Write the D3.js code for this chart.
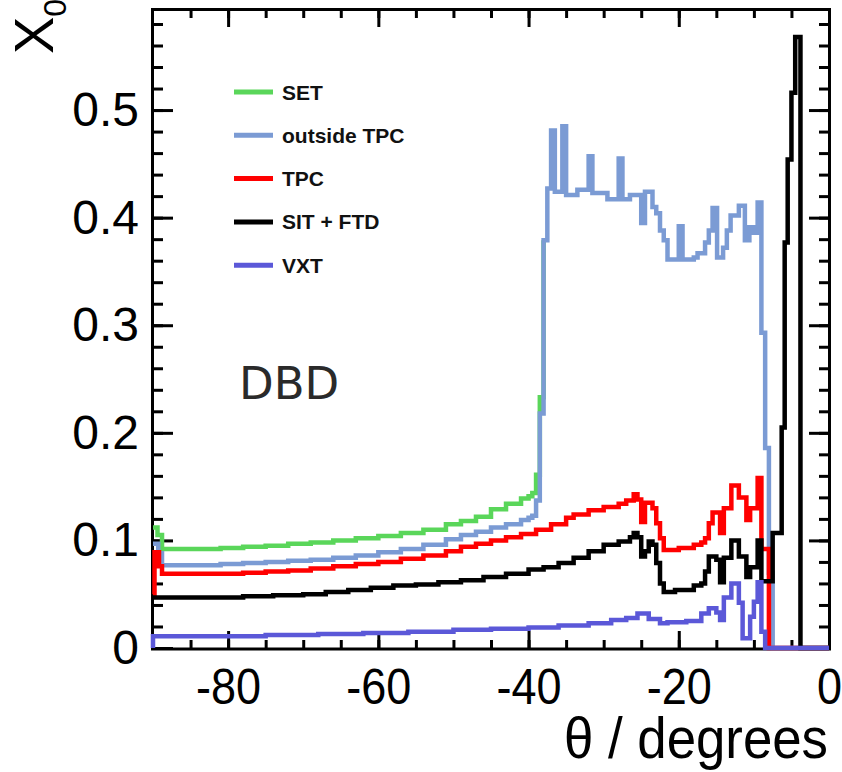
<!DOCTYPE html>
<html>
<head>
<meta charset="utf-8">
<script src="https://cdn.jsdelivr.net/npm/d3@7"></script>
<style>
  html, body { margin: 0; padding: 0; background: #ffffff; }
  svg { display: block; }
</style>
</head>
<body>
<svg id="chart" width="842" height="772"></svg>
<script>
// ---------------- data (theta in degrees, X0 values) ----------------
// step-function breakpoints [theta, value]; each value holds until the next theta
const setData = [[-90,0.112],[-89.4,0.105],[-88.8,0.092],[-81,0.093],[-78,0.094],[-75,0.095],[-72,0.097],[-69,0.098],[-66,0.100],[-63,0.102],[-60,0.104],[-57,0.107],[-54,0.110],[-51,0.115],[-49,0.118],[-47,0.122],[-45,0.129],[-43,0.134],[-41,0.139],[-40,0.141],[-39.5,0.144],[-39,0.161],[-38.5,0.233],[-38,0.379]];

const outsideTpcData = [[-90,0.097],[-89.3,0.088],[-88.8,0.077],[-81,0.078],[-78,0.079],[-75,0.080],[-72,0.081],[-69,0.082],[-66,0.084],[-63,0.086],[-60,0.089],[-57,0.092],[-54,0.096],[-51,0.101],[-49,0.105],[-47,0.108],[-45,0.112],[-43,0.115],[-41,0.119],[-40,0.121],[-39.5,0.123],[-39,0.137],[-38.5,0.218],[-38,0.379],[-37.5,0.427],[-37,0.481],[-36.5,0.424],[-35.5,0.485],[-35,0.421],[-33.5,0.426],[-32,0.457],[-31.5,0.423],[-29.5,0.417],[-28,0.455],[-27.5,0.417],[-26.5,0.421],[-25,0.395],[-24.5,0.424],[-23.5,0.410],[-23,0.404],[-22.5,0.388],[-22,0.379],[-21.5,0.361],[-20,0.392],[-19.5,0.361],[-18,0.363],[-17.5,0.367],[-16.5,0.377],[-16,0.388],[-15.5,0.409],[-14.9,0.363],[-14.1,0.372],[-13.6,0.388],[-13.1,0.402],[-12,0.411],[-11.2,0.379],[-10.6,0.391],[-10.1,0.386],[-9.5,0.414],[-9,0.293],[-8.5,0.186],[-8,0.070],[-7.5,0],[0,0]];

const tpcData = [[-90,0.050],[-89.8,0.089],[-89.2,0.076],[-88.8,0.069],[-81,0.069],[-78,0.070],[-75,0.071],[-72,0.072],[-69,0.074],[-66,0.076],[-63,0.078],[-60,0.080],[-57,0.083],[-54,0.086],[-51,0.090],[-49,0.094],[-47,0.097],[-45,0.100],[-43,0.103],[-41,0.106],[-39,0.110],[-37,0.115],[-35,0.121],[-34,0.124],[-32,0.128],[-30,0.131],[-28,0.134],[-27,0.137],[-26,0.143],[-25.5,0.138],[-25,0.117],[-24.5,0.135],[-23.5,0.130],[-23,0.116],[-22.5,0.102],[-22,0.091],[-20,0.093],[-18,0.096],[-17,0.098],[-16.5,0.102],[-16,0.116],[-15.5,0.126],[-14.5,0.107],[-14,0.130],[-13,0.151],[-12,0.140],[-11,0.119],[-10.5,0.130],[-9.5,0.158],[-9,0.092],[-8,0],[0,0]];

const sitFtdData = [[-90,0.047],[-78,0.048],[-74,0.049],[-70,0.050],[-67,0.052],[-64,0.054],[-61,0.056],[-58,0.058],[-55,0.059],[-52,0.061],[-49,0.063],[-46,0.066],[-43,0.069],[-40,0.073],[-38,0.075],[-36,0.079],[-34,0.084],[-32,0.090],[-30,0.096],[-28,0.099],[-26.5,0.103],[-26,0.107],[-25.5,0.103],[-25,0.085],[-24.5,0.090],[-24,0.099],[-23.5,0.096],[-23,0.079],[-22.5,0.060],[-22,0.052],[-20.5,0.054],[-18,0.058],[-17,0.060],[-16.5,0.071],[-16,0.085],[-15,0.082],[-14.5,0.061],[-14,0.084],[-13,0.100],[-12,0.085],[-11,0.066],[-10.5,0.075],[-9.5,0.100],[-9,0.062],[-7.5,0.107],[-6.3,0.205],[-5.9,0.377],[-5.5,0.454],[-5,0.516],[-4.5,0.568],[-3.8,0],[0,0]];

const vxtData = [[-90,0],[-90,0.011],[-75,0.012],[-68,0.013],[-62,0.014],[-56,0.015],[-50,0.017],[-45,0.018],[-40,0.019],[-36,0.021],[-32,0.023],[-29,0.026],[-27,0.028],[-25.5,0.032],[-24,0.027],[-22.5,0.023],[-21.5,0.024],[-19,0.025],[-17,0.032],[-16,0.037],[-15,0.033],[-14.5,0.026],[-14,0.047],[-13,0.060],[-12,0.042],[-11.5,0.009],[-10.5,0.029],[-10,0.043],[-9.5,0.061],[-9,0.015],[-8.5,0],[0,0]];

const seriesNames = ["SET", "outside TPC", "TPC", "SIT + FTD", "VXT"];
const seriesColors = ["#5ad65a", "#7b9bd4", "#ff0000", "#000000", "#5b58d8"];
const seriesData = [setData, outsideTpcData, tpcData, sitFtdData, vxtData];

const xMajorTicks = [-80, -60, -40, -20, 0];
const xMinorTicks = d3.range(-85, 0, 5);
const yMajorTicks = [0, 0.1, 0.2, 0.3, 0.4, 0.5];
const yMinorTicks = d3.range(0.02, 0.59, 0.02);

const xTitle = "θ / degrees";
const yTitleMain = "X";
const yTitleSub = "0";
const annotation = "DBD";

// ---------------- layout ----------------
const svg = d3.select("#chart");
const L = 153, R = 829, T = 10, B = 648;
const x = d3.scaleLinear().domain([-90, 0]).range([L, R]);
const y = d3.scaleLinear().domain([0, 0.593]).range([B, T]);

// frame
svg.append("rect")
  .attr("x", L - 0.5).attr("y", T - 0.5)
  .attr("width", R - L + 1).attr("height", B - T + 1.5)
  .attr("fill", "none").attr("stroke", "#000").attr("stroke-width", 3);

const fmtY = d => d === 0 ? "0" : d3.format(".1f")(d);
const fmtX = d => String(d);

// bottom axis (major ticks + labels)
const gx = svg.append("g").attr("transform", `translate(0,${B})`)
  .call(d3.axisBottom(x).tickValues(xMajorTicks).tickSize(-17).tickPadding(21).tickFormat(fmtX));
gx.select(".domain").remove();
gx.selectAll("line").attr("stroke-width", 3);
gx.selectAll("text").attr("font-family", "'Liberation Sans', Arial, sans-serif")
  .attr("font-size", 50).attr("fill", "#000")
  .attr("transform", "scale(0.9,1)")
  .attr("x", 0);
// bottom minor
const gxm = svg.append("g").attr("transform", `translate(0,${B})`)
  .call(d3.axisBottom(x).tickValues(xMinorTicks).tickSize(-8).tickFormat(""));
gxm.select(".domain").remove();
gxm.selectAll("line").attr("stroke-width", 3);
// top ticks
const gt = svg.append("g").attr("transform", `translate(0,${T})`)
  .call(d3.axisTop(x).tickValues(xMajorTicks).tickSize(-17).tickFormat(""));
gt.select(".domain").remove();
gt.selectAll("line").attr("stroke-width", 3);
const gtm = svg.append("g").attr("transform", `translate(0,${T})`)
  .call(d3.axisTop(x).tickValues(xMinorTicks).tickSize(-8).tickFormat(""));
gtm.select(".domain").remove();
gtm.selectAll("line").attr("stroke-width", 3);

// left axis
const gy = svg.append("g").attr("transform", `translate(${L},0)`)
  .call(d3.axisLeft(y).tickValues(yMajorTicks).tickSize(-20).tickPadding(14).tickFormat(fmtY));
gy.select(".domain").remove();
gy.selectAll("line").attr("stroke-width", 3);
gy.selectAll("text").attr("font-family", "'Liberation Sans', Arial, sans-serif")
  .attr("font-size", 48).attr("fill", "#000");
const gym = svg.append("g").attr("transform", `translate(${L},0)`)
  .call(d3.axisLeft(y).tickValues(yMinorTicks).tickSize(-10).tickFormat(""));
gym.select(".domain").remove();
gym.selectAll("line").attr("stroke-width", 3);
// right ticks
const gr = svg.append("g").attr("transform", `translate(${R},0)`)
  .call(d3.axisRight(y).tickValues(yMajorTicks).tickSize(-20).tickFormat(""));
gr.select(".domain").remove();
gr.selectAll("line").attr("stroke-width", 3);
const grm = svg.append("g").attr("transform", `translate(${R},0)`)
  .call(d3.axisRight(y).tickValues(yMinorTicks).tickSize(-10).tickFormat(""));
grm.select(".domain").remove();
grm.selectAll("line").attr("stroke-width", 3);

// series lines
const line = d3.line().x(d => x(d[0])).y(d => y(d[1])).curve(d3.curveStepAfter);
seriesData.forEach((data, i) => {
  svg.append("path")
    .datum(data)
    .attr("d", line)
    .attr("fill", "none")
    .attr("stroke", seriesColors[i])
    .attr("stroke-width", 4.5)
    .attr("stroke-linejoin", "miter")
    .attr("stroke-linecap", "butt");
});

// legend
const legend = svg.append("g");
seriesNames.forEach((name, i) => {
  const ly = 92 + i * 43.3;
  legend.append("line")
    .attr("x1", 234).attr("x2", 273).attr("y1", ly).attr("y2", ly)
    .attr("stroke", seriesColors[i]).attr("stroke-width", 5);
  legend.append("text")
    .attr("x", 282).attr("y", ly + 7.5)
    .attr("font-family", "'Liberation Sans', Arial, sans-serif")
    .attr("font-weight", "bold").attr("font-size", 21).attr("fill", "#111")
    .text(name);
});

// annotation
svg.append("text")
  .attr("x", 239).attr("y", 399)
  .attr("font-family", "'DejaVu Sans', sans-serif")
  .attr("font-size", 45).attr("fill", "#2a2a2a")
  .text(annotation);

// axis titles
svg.append("text")
  .attr("transform", "translate(828,758) scale(0.91,1)")
  .attr("text-anchor", "end")
  .attr("font-family", "'Liberation Sans', Arial, sans-serif")
  .attr("font-size", 58).attr("fill", "#000")
  .text(xTitle);

const yt = svg.append("text")
  .attr("transform", "translate(53,54) rotate(-90)")
  .attr("font-family", "'Liberation Sans', Arial, sans-serif")
  .attr("font-size", 56).attr("fill", "#000");
yt.append("tspan").text(yTitleMain);
yt.append("tspan").attr("font-size", 32).attr("dy", 13).text(yTitleSub);
</script>
</body>
</html>
